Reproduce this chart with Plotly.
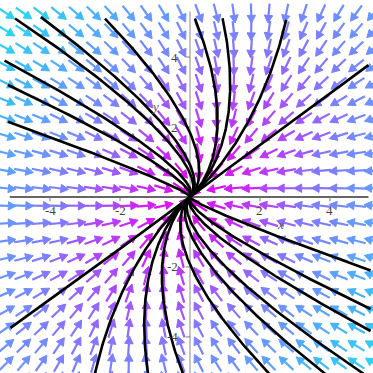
import numpy as np
import plotly.graph_objects as go

# Linear system  x' = a11 x + a12 y ,  y' = a21 x + a22 y
sys_a11, sys_a12 = -1.37, 0.49
sys_a21, sys_a22 = 0.10, -1.13

# Initial points of the black solution curves
ic_x = [-5.0, -4.26, -2.43, -5.3, -5.2, -5.2, 0.14, 0.93, 2.75, 5.1,
        4.96, 3.86, 2.26, 5.16, 5.16, 5.16, -0.2, -1.2, -2.72, -5.13]
ic_y = [5.1, 5.14, 5.1, 3.9, 3.2, 2.15, 5.1, 5.11, 5.06, 3.77,
        -5.05, -5.05, -5.05, -3.83, -3.2, -2.1, -5.05, -5.05, -5.05, -3.74]

# Direction-field grid
grid_x = [-5.25, -4.75, -4.25, -3.75, -3.25, -2.75, -2.25, -1.75, -1.25, -0.75, -0.25,
          0.25, 0.75, 1.25, 1.75, 2.25, 2.75, 3.25, 3.75, 4.25, 4.75, 5.25]
grid_y = [-5.25, -4.75, -4.25, -3.75, -3.25, -2.75, -2.25, -1.75, -1.25, -0.75, -0.25,
          0.25, 0.75, 1.25, 1.75, 2.25, 2.75, 3.25, 3.75, 4.25, 4.75, 5.25]

# Axis ticks
tick_vals = [-4, -2, 2, 4]
tick_text = ["-4", "-2", "2", "4"]

# Colour by speed
speed_stops = [0.0, 2.0, 3.5, 5.0, 7.0, 9.0, 11.5]
speed_cols = [(235, 0, 235), (200, 40, 250), (165, 80, 255), (128, 122, 255),
              (105, 150, 255), (70, 180, 250), (40, 215, 240)]

A = np.array([[sys_a11, sys_a12], [sys_a21, sys_a22]])


def field(p):
    return A @ p


def colour(m):
    m = min(max(m, speed_stops[0]), speed_stops[-1])
    for i in range(len(speed_stops) - 1):
        if m <= speed_stops[i + 1]:
            f = (m - speed_stops[i]) / (speed_stops[i + 1] - speed_stops[i])
            c0, c1 = speed_cols[i], speed_cols[i + 1]
            return tuple(int(round(c0[k] + f * (c1[k] - c0[k]))) for k in range(3))
    return speed_cols[-1]


fig = go.Figure()

# ---- arrows ----
L = 0.56
hl = 0.22
hw = 0.12
nbins = 20
mmax = speed_stops[-1]
bins = {}
for gx in grid_x:
    for gy in grid_y:
        p = np.array([gx, gy])
        v = field(p)
        m = float(np.hypot(*v))
        if m < 1e-9:
            continue
        u = v / m
        n = np.array([-u[1], u[0]])
        tail = p - u * L / 2
        tip = p + u * L / 2
        base = tip - u * hl
        b = min(int(m / mmax * nbins), nbins - 1)
        d = bins.setdefault(b, {"sx": [], "sy": [], "hx": [], "hy": []})
        d["sx"] += [tail[0], base[0], None]
        d["sy"] += [tail[1], base[1], None]
        h1 = base + n * hw
        h2 = base - n * hw
        d["hx"] += [tip[0], h1[0], h2[0], tip[0], None]
        d["hy"] += [tip[1], h1[1], h2[1], tip[1], None]

for b, d in sorted(bins.items()):
    c = colour((b + 0.5) / nbins * mmax)
    col = "rgb(%d,%d,%d)" % c
    fig.add_trace(go.Scatter(x=d["sx"], y=d["sy"], mode="lines",
                             line=dict(color=col, width=2.2), hoverinfo="skip", showlegend=False))
    fig.add_trace(go.Scatter(x=d["hx"], y=d["hy"], mode="lines", fill="toself", fillcolor=col,
                             line=dict(color=col, width=1), hoverinfo="skip", showlegend=False))

# ---- axes ----
fig.add_trace(go.Scatter(x=[-5.15, 5.1], y=[0, 0], mode="lines",
                         line=dict(color="#333", width=1.3), hoverinfo="skip", showlegend=False))
fig.add_trace(go.Scatter(x=[0, 0], y=[-5.1, 5.3], mode="lines",
                         line=dict(color="#888", width=1), hoverinfo="skip", showlegend=False))
tx, ty = [], []
for t in tick_vals:
    tx += [t, t, None]
    ty += [0, -0.12, None]
for t in tick_vals:
    tx += [0, -0.12, None]
    ty += [t, t, None]
fig.add_trace(go.Scatter(x=tx, y=ty, mode="lines", line=dict(color="#777", width=1),
                         hoverinfo="skip", showlegend=False))

# ---- solution curves ----
dt = 0.02
for x0, y0 in zip(ic_x, ic_y):
    p = np.array([x0, y0])
    xs, ys = [p[0]], [p[1]]
    for _ in range(600):
        k1 = field(p)
        k2 = field(p + dt / 2 * k1)
        k3 = field(p + dt / 2 * k2)
        k4 = field(p + dt * k3)
        p = p + dt / 6 * (k1 + 2 * k2 + 2 * k3 + k4)
        xs.append(p[0])
        ys.append(p[1])
    fig.add_trace(go.Scatter(x=xs, y=ys, mode="lines", line=dict(color="black", width=2.6),
                             hoverinfo="skip", showlegend=False))

# ---- labels ----
ann = []
for t, s in zip(tick_vals, tick_text):
    ann.append(dict(x=t, y=-0.38, text=s, showarrow=False,
                    font=dict(family="Liberation Serif", size=13, color="#444")))
    ann.append(dict(x=-0.3, y=t, text=s, showarrow=False, xanchor="right",
                    font=dict(family="Liberation Serif", size=13, color="#444")))
ann.append(dict(x=2.6, y=-0.8, text="<i>x</i>", showarrow=False,
                font=dict(family="Liberation Serif", size=13, color="#555")))
ann.append(dict(x=-1.0, y=2.6, text="<i>y</i>", showarrow=False,
                font=dict(family="Liberation Serif", size=13, color="#555")))

fig.update_layout(
    width=373, height=373, margin=dict(l=0, r=0, t=0, b=0),
    paper_bgcolor="white", plot_bgcolor="white",
    xaxis=dict(range=[-5.43, 5.23], visible=False, fixedrange=True),
    yaxis=dict(range=[-5.03, 5.63], visible=False, fixedrange=True),
    annotations=ann,
)
fig.write_html("out.html")
